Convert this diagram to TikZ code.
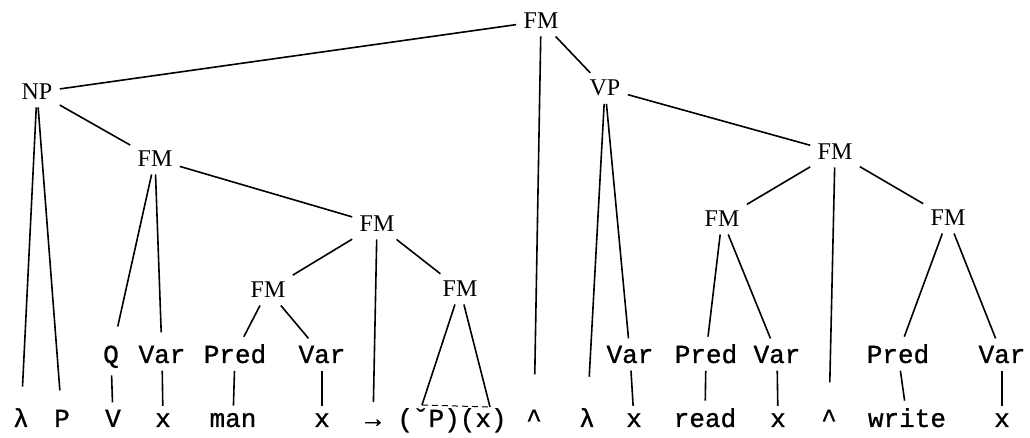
\documentclass[tikz,border=0pt]{standalone}
\usepackage{fontspec}
\setmainfont{Liberation Serif}
\newfontfamily\twfont[FakeBold=1]{Liberation Mono}

\begin{document}
\begin{tikzpicture}[x=0.5pt, y=-0.5pt, line width=0.8pt,
    cat/.style={anchor=base, font=\fontsize{12}{14}\selectfont},
    word/.style={anchor=base, font=\twfont\fontsize{13}{15}\selectfont},
    gap/.style={shorten >=#1}]
    \useasboundingbox (0,0) rectangle (1030,438);

    % 1. 上层节点
    \node[cat] (fm) at (541,29) {FM};
    \node[cat] (np) at (37,100) {NP};
    \node[cat] (vp) at (605,96) {VP};
    \node[cat] (fmA) at (155,167) {FM};
    \node[cat] (fmB) at (377,232) {FM};
    \node[cat] (fmC) at (268,298) {FM};
    \node[cat] (fmD) at (460,297) {FM};
    \node[cat] (fmE) at (835,160) {FM};
    \node[cat] (fmF) at (722,227) {FM};
    \node[cat] (fmG) at (948,226) {FM};

    % 2. 中间一行
    \node[word] (q) at (111,363) {Q};
    \node[word] (varA) at (162,363) {Var};
    \node[word] (predA) at (235,363) {Pred};
    \node[word] (varB) at (322,363) {Var};
    \node[word] (varC) at (630,363) {Var};
    \node[word] (predB) at (706,363) {Pred};
    \node[word] (varD) at (777,363) {Var};
    \node[word] (predC) at (898,363) {Pred};
    \node[word] (varE) at (1002,363) {Var};

    % 3. 最下一行
    \node[word] (lamA) at (21,427) {λ};
    \node[word] (p) at (62,427) {P};
    \node[word] (all) at (113,427) {V};
    \node[word] (xA) at (163,427) {x};
    \node[word] (man) at (233,427) {man};
    \node[word] (xB) at (322,427) {x};
    \node[word] (imp) at (373,427) {→};
    \node[word] (app) at (452,427) {(ˇP)(x)};
    \node[word] (andA) at (534,427) {\textasciicircum};
    \node[word] (lamB) at (587,427) {λ};
    \node[word] (xC) at (634,427) {x};
    \node[word] (read) at (705,427) {read};
    \node[word] (xD) at (778,427) {x};
    \node[word] (andB) at (829,427) {\textasciicircum};
    \node[word] (write) at (907,427) {write};
    \node[word] (xE) at (1002,427) {x};

    % 树枝
    \draw (fm) -- (np);
    \draw (fm) -- (vp);
    \draw[gap=14pt] (fm) -- (andA);

    \draw[gap=7pt] (np) -- (lamA);
    \draw[gap=6pt] (np) -- (p);
    \draw (np) -- (fmA);

    \draw[gap=6pt] (fmA) -- (q);
    \draw[gap=3pt] (fmA) -- (varA);
    \draw (fmA) -- (fmB);

    \draw (fmB) -- (fmC);
    \draw[gap=5pt] (fmB) -- (imp);
    \draw (fmB) -- (fmD);

    \draw (fmC) -- (predA);
    \draw (fmC) -- (varB);

    % 三角形
    \coordinate (triL) at (422,405);
    \coordinate (triR) at (490,407);
    \draw (fmD) -- (triL);
    \draw (fmD) -- (triR);
    \draw[densely dashed, line width=0.5pt] (triL) -- (triR);

    \draw[gap=12pt] (vp) -- (lamB);
    \draw (vp) -- (varC);
    \draw (vp) -- (fmE);

    \draw (fmE) -- (fmF);
    \draw[gap=10pt] (fmE) -- (andB);
    \draw (fmE) -- (fmG);

    \draw (fmF) -- (predB);
    \draw (fmF) -- (varD);
    \draw (fmG) -- (predC);
    \draw (fmG) -- (varE);

    % 竖线
    \foreach \up/\down in {q/all, varA/xA, predA/man, varB/xB,
        varC/xC, predB/read, varD/xD, predC/write, varE/xE} {
        \draw (\up) -- (\down);
    }

\end{tikzpicture}
\end{document}
